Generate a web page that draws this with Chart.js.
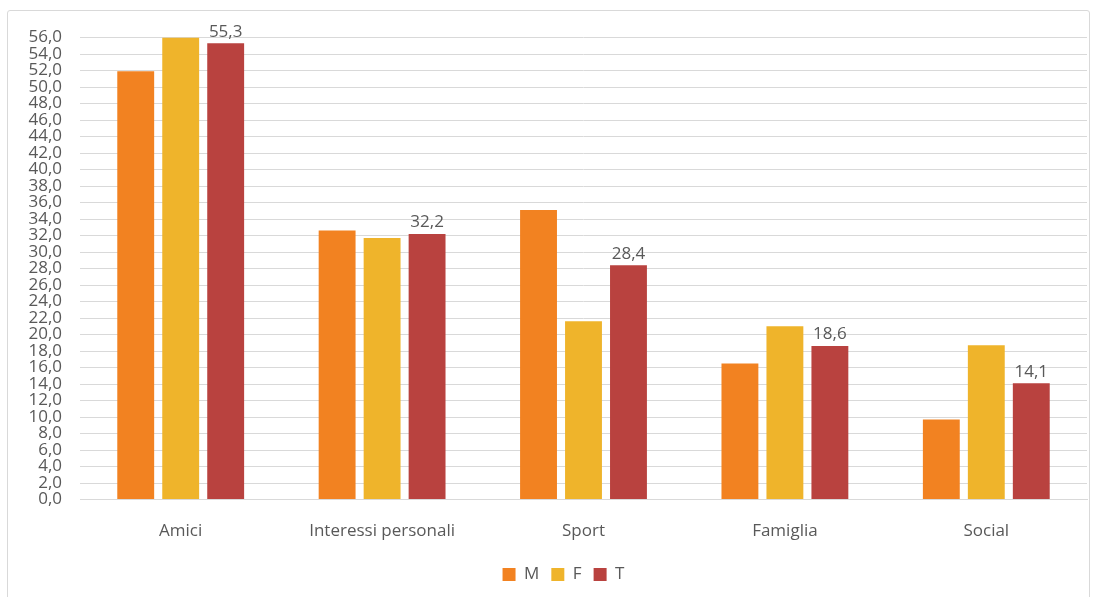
<!DOCTYPE html>
<html>
<head>
<meta charset="utf-8">
<script src="https://cdn.jsdelivr.net/npm/chart.js@4"></script>
<style>
  html, body { margin: 0; padding: 0; background: #fff; }
  #box {
    position: absolute; left: 7px; top: 10px;
    width: 1083px; height: 600px;
    border: 1px solid #d9d9d9; border-radius: 3px;
    box-sizing: border-box; background: #fff;
  }
  canvas { display: block; }
</style>
</head>
<body>
<div id="box"><canvas id="c" width="1081" height="598"></canvas></div>
<script>
// categories and series
const categories = ['Amici', 'Interessi personali', 'Sport', 'Famiglia', 'Social'];
const valuesM = [51.9, 32.6, 35.1, 16.5, 9.7];
const valuesF = [56.0, 31.7, 21.6, 21.0, 18.7];
const valuesT = [55.3, 32.2, 28.4, 18.6, 14.1];
const yMax = 56, yStep = 2;

const fmt = v => v.toFixed(1).replace('.', ',');
const FONT = '"Open Sans", sans-serif';
const GREY = '#595959';

// labels on top of the T bars only
const topLabels = {
  id: 'topLabels',
  afterDatasetsDraw(chart) {
    const ctx = chart.ctx;
    const meta = chart.getDatasetMeta(2);
    ctx.save();
    ctx.font = '17px ' + FONT;
    ctx.fillStyle = GREY;
    ctx.textAlign = 'center';
    ctx.textBaseline = 'bottom';
    meta.data.forEach((bar, i) => {
      ctx.fillText(fmt(valuesT[i]), bar.x, bar.y - 3);
    });
    ctx.restore();
  }
};

// legend sits a bit right of the canvas centre in the original
const legendShift = {
  id: 'legendShift',
  afterLayout(chart) {
    chart.legend.left += 16;
    chart.legend.right += 16;
  }
};

new Chart(document.getElementById('c'), {
  type: 'bar',
  data: {
    labels: categories,
    datasets: [
      { label: 'M', data: valuesM, backgroundColor: '#f28221' },
      { label: 'F', data: valuesF, backgroundColor: '#efb42b' },
      { label: 'T', data: valuesT, backgroundColor: '#b9423f' }
    ]
  },
  options: {
    responsive: false,
    animation: false,
    categoryPercentage: 0.67,
    barPercentage: 0.82,
    layout: { padding: { top: 17, right: 2, left: 0, bottom: 16 } },
    plugins: {
      tooltip: { enabled: false },
      legend: {
        position: 'bottom',
        labels: {
          boxWidth: 13, boxHeight: 13, padding: 12,
          color: GREY, font: { family: FONT, size: 17 }
        }
      }
    },
    scales: {
      x: {
        grid: { display: false },
        border: { color: '#d9d9d9' },
        ticks: { color: GREY, font: { family: FONT, size: 17 }, padding: 13 }
      },
      y: {
        min: 0, max: yMax,
        grid: { color: '#d9d9d9', drawTicks: false },
        border: { display: false },
        afterFit(s) { s.width = 72; },
        ticks: {
          stepSize: yStep, autoSkip: false, padding: 18,
          color: GREY, font: { family: FONT, size: 17, lineHeight: 1 },
          callback: v => fmt(v)
        }
      }
    }
  },
  plugins: [topLabels, legendShift]
});
</script>
</body>
</html>
